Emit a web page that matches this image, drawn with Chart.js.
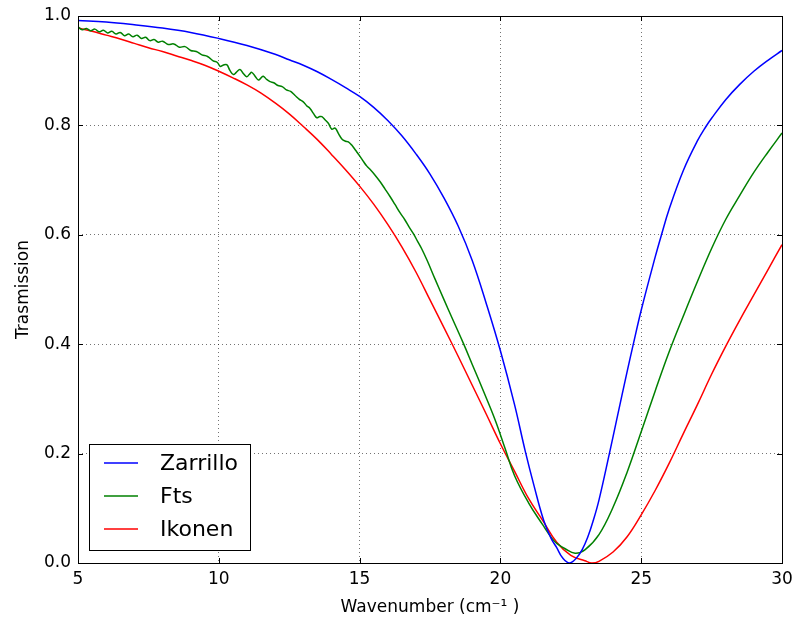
<!DOCTYPE html>
<html>
<head>
<meta charset="utf-8">
<title>Trasmission vs wavenumber</title>
<script src="https://cdn.jsdelivr.net/npm/chart.js@4.4.1/dist/chart.umd.min.js"></script>
<style>
  html, body { margin: 0; padding: 0; background: #fff; }
  #plot { display: block; }
</style>
</head>
<body>
<canvas id="plot" width="794" height="621"></canvas>
<script>
// Axis ticks
const xTicks = [5, 10, 15, 20, 25, 30];
const yTicks = [0.0, 0.2, 0.4, 0.6, 0.8, 1.0];

// Zarrillo model
const zarrilloX = [5, 6, 7, 8, 9, 10, 11, 12, 12.5, 13, 13.5, 14, 14.5, 15, 15.5, 16, 16.5, 17, 17.5, 18,
  18.5, 19, 19.5, 20, 20.5, 20.88, 21.2, 21.53, 21.8, 22.0, 22.2, 22.45, 22.7, 22.9, 23.1, 23.3, 23.5,
  23.87, 24.13, 24.5, 24.72, 25.0, 25.5, 25.72, 26.0, 26.5, 27.0, 27.3, 27.5, 28.0, 28.5, 29.0, 29.5, 30.0];
const zarrilloY = [0.992, 0.989, 0.984, 0.978, 0.970, 0.959, 0.946, 0.930, 0.920, 0.910, 0.898, 0.884,
  0.869, 0.853, 0.833, 0.809, 0.781, 0.748, 0.711, 0.667, 0.616, 0.553, 0.474, 0.388, 0.290, 0.205,
  0.140, 0.079, 0.045, 0.028, 0.010, 0.000, 0.009, 0.024, 0.047, 0.078, 0.115, 0.200, 0.262, 0.350,
  0.400, 0.462, 0.560, 0.600, 0.648, 0.718, 0.772, 0.798, 0.813, 0.847, 0.875, 0.899, 0.919, 0.937];

// Fts measurement (noisy at low wavenumber)
const ftsX = [5.0, 5.15, 5.3, 5.45, 5.6, 5.75, 5.9, 6.05, 6.2, 6.35, 6.5, 6.65, 6.8, 6.95, 7.1, 7.25,
  7.4, 7.55, 7.7, 7.85, 8.0, 8.2, 8.4, 8.6, 8.8, 9.0, 9.2, 9.4, 9.6, 9.8, 9.95, 10.05, 10.15, 10.28,
  10.4, 10.52, 10.62, 10.75, 10.87, 10.99, 11.08, 11.17, 11.3, 11.41, 11.5, 11.58, 11.7, 11.82, 11.95,
  12.1, 12.25, 12.4, 12.55, 12.7, 12.85, 13.0, 13.12, 13.24, 13.36, 13.48, 13.57, 13.66, 13.78, 13.89,
  14.01, 14.13, 14.25, 14.37, 14.5, 14.6, 14.72, 14.85, 15.02, 15.15, 15.25, 15.4, 15.55, 15.73, 15.9,
  16.08, 16.25, 16.44, 16.6, 16.75, 16.91, 17.05, 17.2, 17.4, 17.68, 18.0, 18.3, 18.69, 19.0, 19.4,
  19.81, 20.17, 20.5, 21.0, 21.5, 21.83, 22.0, 22.3, 22.65, 23.0, 23.5, 24.0, 24.5, 25.0, 25.5,
  26.0, 26.5, 27.0, 27.5, 28.0, 28.5, 29.0, 29.5, 30.0];
const ftsY = [0.980, 0.975, 0.977, 0.973, 0.976, 0.971, 0.974, 0.969, 0.972, 0.967, 0.970, 0.964,
  0.967, 0.962, 0.965, 0.959, 0.961, 0.955, 0.957, 0.952, 0.954, 0.948, 0.949, 0.943, 0.944, 0.937,
  0.935, 0.929, 0.926, 0.918, 0.915, 0.908, 0.910, 0.911, 0.900, 0.893, 0.897, 0.902, 0.895, 0.889,
  0.893, 0.897, 0.889, 0.883, 0.887, 0.890, 0.884, 0.880, 0.878, 0.873, 0.871, 0.865, 0.862, 0.855,
  0.848, 0.843, 0.836, 0.831, 0.822, 0.814, 0.816, 0.816, 0.810, 0.804, 0.793, 0.795, 0.785, 0.775,
  0.771, 0.770, 0.764, 0.755, 0.743, 0.733, 0.726, 0.718, 0.709, 0.697, 0.684, 0.670, 0.656, 0.640,
  0.628, 0.615, 0.602, 0.589, 0.575, 0.553, 0.519, 0.481, 0.446, 0.401, 0.363, 0.314, 0.262, 0.209,
  0.160, 0.110, 0.070, 0.045, 0.036, 0.026, 0.018, 0.024, 0.052, 0.102, 0.166, 0.240, 0.315,
  0.387, 0.452, 0.515, 0.575, 0.628, 0.672, 0.714, 0.751, 0.786];

// Ikonen model
const ikonenX = [5, 5.5, 6, 6.5, 7, 7.5, 8, 8.5, 9, 9.5, 10, 10.5, 11, 11.5, 12, 12.5, 13, 13.5, 14,
  14.5, 15, 15.5, 16, 16.5, 17, 17.5, 18, 18.5, 19, 19.5, 20, 20.5, 21, 21.5, 22, 22.5, 23, 23.25,
  23.5, 24, 24.5, 25, 25.5, 26, 26.5, 27, 27.5, 28, 28.5, 29, 29.5, 30];
const ikonenY = [0.978, 0.972, 0.965, 0.958, 0.950, 0.942, 0.935, 0.927, 0.919, 0.910, 0.899, 0.887,
  0.874, 0.859, 0.841, 0.821, 0.798, 0.774, 0.747, 0.719, 0.689, 0.656, 0.619, 0.578, 0.532, 0.481,
  0.430, 0.378, 0.325, 0.272, 0.218, 0.168, 0.118, 0.078, 0.038, 0.014, 0.004, 0.000, 0.003, 0.020,
  0.048, 0.088, 0.133, 0.183, 0.237, 0.290, 0.345, 0.396, 0.444, 0.490, 0.536, 0.582];

const FONT = "'DejaVu Sans', 'Liberation Sans', sans-serif";

const toPoints = (xs, ys) => xs.map((x, i) => ({ x, y: ys[i] }));

const series = [
  { label: "Zarrillo", color: "#0000ff", data: toPoints(zarrilloX, zarrilloY) },
  { label: "Fts", color: "#008000", data: toPoints(ftsX, ftsY) },
  { label: "Ikonen", color: "#ff0000", data: toPoints(ikonenX, ikonenY) }
];

// Frame + inward tick marks on all four sides
const framePlugin = {
  id: "frame",
  afterDraw(chart) {
    const { ctx, chartArea: a, scales } = chart;
    ctx.save();
    ctx.strokeStyle = "#000";
    ctx.lineWidth = 1;
    ctx.beginPath();
    xTicks.forEach((t) => {
      const px = Math.round(scales.x.getPixelForValue(t)) + 0.5;
      ctx.moveTo(px, a.bottom); ctx.lineTo(px, a.bottom - 5);
      ctx.moveTo(px, a.top); ctx.lineTo(px, a.top + 5);
    });
    yTicks.forEach((t) => {
      const py = Math.round(scales.y.getPixelForValue(t)) + 0.5;
      ctx.moveTo(a.left, py); ctx.lineTo(a.left + 5, py);
      ctx.moveTo(a.right, py); ctx.lineTo(a.right - 5, py);
    });
    ctx.stroke();
    ctx.strokeRect(a.left + 0.5, a.top + 0.5, a.right - a.left, a.bottom - a.top);
    ctx.restore();
  }
};

// Boxed legend in the lower-left corner of the plot
const legendPlugin = {
  id: "boxLegend",
  afterDraw(chart) {
    const { ctx } = chart;
    const box = { x: 89, y: 444, w: 161, h: 106 };
    const rows = [463, 496, 529];
    ctx.save();
    ctx.fillStyle = "#fff";
    ctx.fillRect(box.x, box.y, box.w, box.h);
    ctx.strokeStyle = "#000";
    ctx.lineWidth = 1;
    ctx.strokeRect(box.x + 0.5, box.y + 0.5, box.w, box.h);
    chart.data.datasets.forEach((ds, i) => {
      ctx.strokeStyle = ds.borderColor;
      ctx.lineWidth = 1.5;
      ctx.beginPath();
      ctx.moveTo(104, rows[i]);
      ctx.lineTo(138, rows[i]);
      ctx.stroke();
      ctx.fillStyle = "#000";
      ctx.font = "22px " + FONT;
      ctx.textBaseline = "middle";
      ctx.fillText(ds.label, 160, rows[i] + 1);
    });
    ctx.restore();
  }
};

const gridOpts = { color: "rgba(0,0,0,0.55)", lineWidth: 1, drawTicks: false };
const borderOpts = { display: false, dash: [1, 3] };

new Chart(document.getElementById("plot"), {
  type: "scatter",
  data: {
    datasets: series.map((s) => ({
      label: s.label,
      data: s.data,
      showLine: true,
      borderColor: s.color,
      backgroundColor: s.color,
      borderWidth: 1.5,
      pointRadius: 0,
      tension: 0.4
    }))
  },
  options: {
    responsive: false,
    animation: false,
    layout: { padding: { top: 16, right: 12, left: 0, bottom: 0 } },
    plugins: { legend: { display: false }, tooltip: { enabled: false } },
    scales: {
      x: {
        type: "linear",
        min: 5,
        max: 30,
        afterBuildTicks: (scale) => { scale.ticks = xTicks.map((v) => ({ value: v })); },
        afterFit: (scale) => {
          scale.height = 58;
          scale.paddingLeft = 0;
          scale.paddingRight = 0;
        },
        grid: gridOpts,
        border: borderOpts,
        ticks: { padding: 6, color: "#000", font: { family: FONT, size: 17 } },
        title: {
          display: true,
          text: "Wavenumber (cm\u207B\u00B9 )",
          color: "#000",
          font: { family: FONT, size: 17 },
          padding: { top: 0, bottom: 3 }
        }
      },
      y: {
        type: "linear",
        min: 0,
        max: 1,
        afterBuildTicks: (scale) => { scale.ticks = yTicks.map((v) => ({ value: v })); },
        afterFit: (scale) => {
          scale.width = 78;
          scale.paddingTop = 0;
          scale.paddingBottom = 0;
        },
        grid: gridOpts,
        border: borderOpts,
        ticks: {
          padding: 7,
          color: "#000",
          font: { family: FONT, size: 17 },
          callback: (v) => Number(v).toFixed(1)
        },
        title: {
          display: true,
          text: "Trasmission",
          color: "#000",
          font: { family: FONT, size: 17 },
          padding: { top: 13, bottom: 0 }
        }
      }
    }
  },
  plugins: [framePlugin, legendPlugin]
});
</script>
</body>
</html>
